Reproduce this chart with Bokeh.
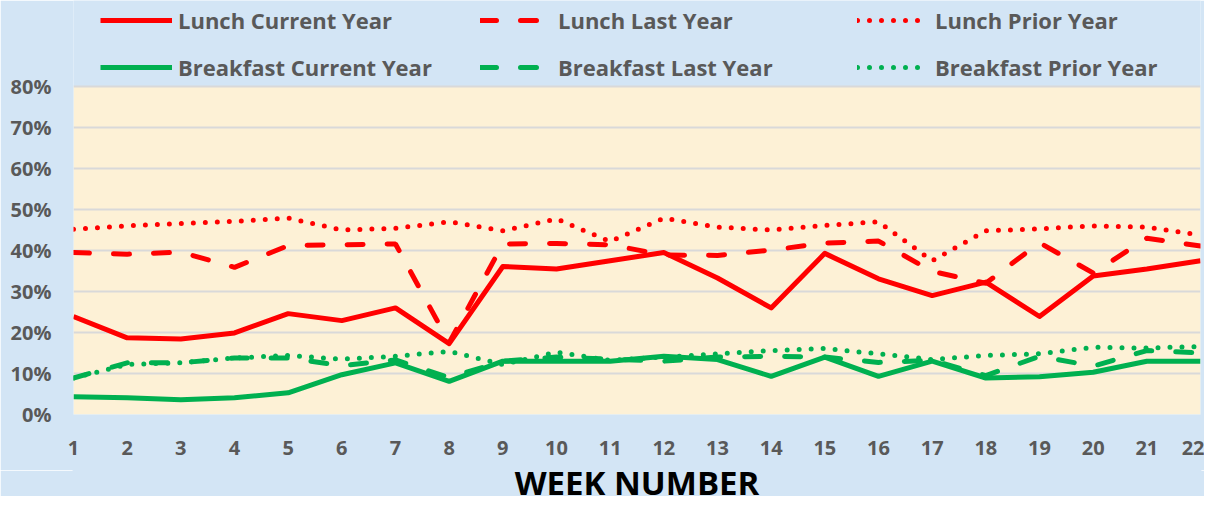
from bokeh.plotting import figure
from bokeh.layouts import column
from bokeh.core.properties import value
from bokeh.models import (Legend, LegendItem, FixedTicker, NumeralTickFormatter, Range1d,
                          BoxAnnotation)
from bokeh.embed import file_html
from bokeh.resources import INLINE

weeks = list(range(1, 23))
week_labels = [str(w) for w in weeks]
x_title = "WEEK NUMBER"

lunch_current = [23.9, 18.7, 18.4, 19.9, 24.6, 22.9, 26.0, 17.3, 36.1, 35.5, 37.5,
                 39.5, 33.3, 26.0, 39.3, 33.1, 29.0, 32.3, 23.9, 33.8, 35.5, 37.5]
lunch_last = [39.5, 39.1, 39.6, 35.9, 41.2, 41.4, 41.6, 17.5, 41.6, 41.7, 41.4,
              38.9, 38.8, 40.1, 41.8, 42.3, 34.9, 32.0, 41.9, 34.5, 43.0, 41.1]
lunch_prior = [45.2, 46.0, 46.6, 47.1, 47.9, 45.0, 45.4, 47.0, 44.8, 47.7, 42.2,
               47.9, 45.7, 45.0, 46.1, 47.0, 37.5, 44.8, 45.3, 46.0, 45.7, 43.8]
breakfast_current = [4.3, 4.1, 3.6, 4.1, 5.3, 9.7, 12.6, 8.1, 13.0, 13.0, 13.0,
                     14.2, 13.4, 9.3, 14.0, 9.3, 13.0, 8.9, 9.2, 10.3, 13.0, 13.0]
breakfast_last = [8.9, 12.6, 12.6, 13.8, 13.8, 11.9, 13.3, 9.0, 13.0, 14.0, 13.5,
                  13.0, 14.0, 14.2, 14.0, 12.7, 13.2, 9.5, 14.2, 11.8, 15.6, 15.0]
breakfast_prior = [8.9, 12.2, 12.6, 13.8, 14.4, 13.5, 14.2, 15.4, 12.2, 15.2, 13.2,
                   14.0, 14.8, 15.6, 16.1, 14.8, 13.4, 14.4, 14.8, 16.4, 16.2, 16.6]

y_ticks = [0, 0.1, 0.2, 0.3, 0.4, 0.5, 0.6, 0.7, 0.8]
y_max = 0.8

RED = "#FF0000"
GREEN = "#00B050"
GREY = "#595959"
BLUE_BG = "#D3E5F5"
BEIGE = "#FDF1D6"
FONT = "Open Sans"

W = 1204
H_MAIN = 470
H_TITLE = 26
LEFT, RIGHT = 73, 4
# frame spans from the top of the canvas (legend lives inside it); the data area is 0..80%
FRAME_H = 414
DATA_H = 328
p = figure(width=W, height=H_MAIN, output_backend="svg", toolbar_location=None,
           x_range=Range1d(weeks[0], weeks[-1]),
           y_range=Range1d(0, y_max * FRAME_H / DATA_H),
           min_border_left=LEFT, min_border_right=RIGHT, min_border_top=0,
           min_border_bottom=H_MAIN - FRAME_H)
p.background_fill_color = BLUE_BG
p.border_fill_color = BLUE_BG
p.outline_line_color = None

p.add_layout(BoxAnnotation(left=weeks[0], right=weeks[-1], bottom=0, top=y_max,
                           fill_color=BEIGE, fill_alpha=1, line_color=None, level="image"))

def pct(vals):
    return [v / 100 for v in vals]

r_lc = p.line(weeks, pct(lunch_current), line_color=RED, line_width=5, line_join="round")
r_ll = p.line(weeks, pct(lunch_last), line_color=RED, line_width=5, line_dash="16 24", line_cap="round")
r_lp = p.line(weeks, pct(lunch_prior), line_color=RED, line_width=5, line_dash="0 12", line_cap="round")
r_bc = p.line(weeks, pct(breakfast_current), line_color=GREEN, line_width=5, line_join="round")
r_bl = p.line(weeks, pct(breakfast_last), line_color=GREEN, line_width=5, line_dash="16 24", line_cap="round")
r_bp = p.line(weeks, pct(breakfast_prior), line_color=GREEN, line_width=5, line_dash="0 12", line_cap="round")

# axes
p.xaxis.ticker = FixedTicker(ticks=weeks)
p.xaxis.major_label_overrides = {w: s for w, s in zip(weeks, week_labels)}
p.yaxis.ticker = FixedTicker(ticks=y_ticks)
p.yaxis.formatter = NumeralTickFormatter(format="0%")
for ax in (p.xaxis[0], p.yaxis[0]):
    ax.axis_line_color = None
    ax.major_tick_line_color = None
    ax.minor_tick_line_color = None
    ax.major_tick_out = 0
    ax.major_tick_in = 0
    ax.major_label_text_font = FONT
    ax.major_label_text_font_style = "bold"
    ax.major_label_text_font_size = "20px"
    ax.major_label_text_color = GREY
p.xaxis.major_label_standoff = 26
p.yaxis.major_label_standoff = 22

p.xgrid.grid_line_color = None
p.ygrid.grid_line_color = "#D9D9D9"
p.ygrid.grid_line_width = 2

def make_legend(items, vx):
    lg = Legend(items=items, location=(vx, FRAME_H - 82), orientation="vertical",
                glyph_width=72, glyph_height=30, label_height=30, spacing=17,
                label_standoff=6, padding=0, margin=0,
                border_line_alpha=0, background_fill_alpha=0,
                label_text_font=FONT, label_text_font_style="bold",
                label_text_font_size="22px", label_text_color=GREY)
    p.add_layout(lg, "center")

make_legend([LegendItem(label="Lunch Current Year", renderers=[r_lc]),
             LegendItem(label="Breakfast Current Year", renderers=[r_bc])], 27)
make_legend([LegendItem(label="Lunch Last Year", renderers=[r_ll]),
             LegendItem(label="Breakfast Last Year", renderers=[r_bl])], 407)
make_legend([LegendItem(label="Lunch Prior Year", renderers=[r_lp]),
             LegendItem(label="Breakfast Prior Year", renderers=[r_bp])], 784)

# x-axis title strip below the chart, sharing the chart's x scale
t = figure(width=W, height=H_TITLE, output_backend="svg", toolbar_location=None,
           x_range=p.x_range, y_range=Range1d(0, H_TITLE),
           x_axis_location=None, y_axis_location=None,
           min_border_left=LEFT, min_border_right=RIGHT, min_border_top=0, min_border_bottom=0)
t.background_fill_color = BLUE_BG
t.border_fill_color = BLUE_BG
t.outline_line_color = BLUE_BG
t.outline_line_width = 2
t.grid.visible = False
t.text(x=[(weeks[0] + weeks[-1]) / 2], y=[14], text=[x_title],
       text_align="center", text_baseline="middle",
       text_font=value(FONT), text_font_style="bold", text_font_size="33px",
       text_color="#000000")

layout = column(p, t, spacing=0)
open("out.html", "w").write(file_html(layout, INLINE))
